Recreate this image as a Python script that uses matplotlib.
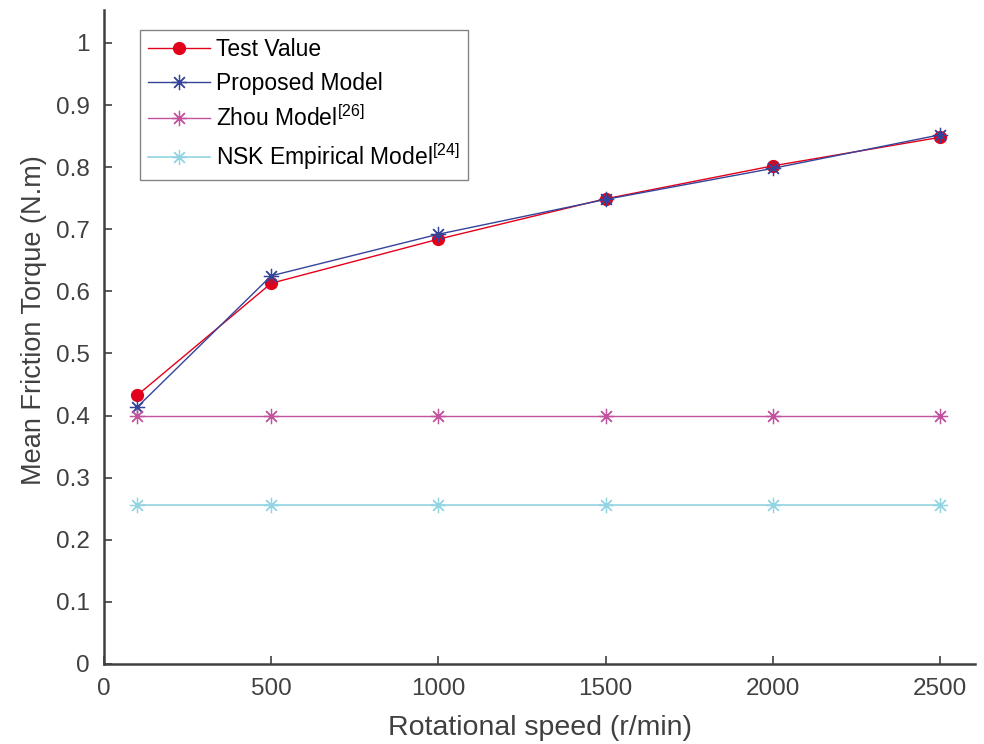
import matplotlib
matplotlib.use("Agg")
import matplotlib.pyplot as plt

plt.rcParams['font.family'] = ['Liberation Sans', 'DejaVu Sans']
plt.rcParams['mathtext.fontset'] = 'custom'
plt.rcParams['mathtext.rm'] = 'Liberation Sans'
plt.rcParams['mathtext.it'] = 'Liberation Sans'

speed = [100, 500, 1000, 1500, 2000, 2500]
test_value = [0.433, 0.613, 0.684, 0.749, 0.802, 0.848]
proposed = [0.414, 0.625, 0.692, 0.748, 0.798, 0.852]
zhou = [0.400, 0.400, 0.400, 0.400, 0.400, 0.400]
nsk = [0.256, 0.256, 0.256, 0.256, 0.256, 0.256]

labels = ['Test Value', 'Proposed Model', r'Zhou Model$^{[26]}$', r'NSK Empirical Model$^{[24]}$']
xticks = [0, 500, 1000, 1500, 2000, 2500]
yticks = [0, 0.1, 0.2, 0.3, 0.4, 0.5, 0.6, 0.7, 0.8, 0.9, 1]
ytick_labels = ['0', '0.1', '0.2', '0.3', '0.4', '0.5', '0.6', '0.7', '0.8', '0.9', '1']

# eight-spoke asterisk, like the MATLAB '*' marker
asterisk = (8, 2, 0)

fig = plt.figure(figsize=(9.84, 7.44), dpi=100)
ax = fig.add_axes([104 / 984, 1 - 664 / 744, 871 / 984, 654 / 744])

ax.plot(speed, test_value, color='#e3001b', lw=1.0, marker='o', markersize=8.5,
        markerfacecolor='#e3001b', markeredgecolor='#e3001b', label=labels[0])
ax.plot(speed, proposed, color='#34449a', lw=1.0, marker=asterisk, markersize=11,
        markeredgewidth=0.9, label=labels[1])
ax.plot(speed, zhou, color='#c2519e', lw=1.0, marker=asterisk, markersize=11,
        markeredgewidth=0.9, label=labels[2])
ax.plot(speed, nsk, color='#93d4e3', lw=1.2, marker=asterisk, markersize=11,
        markeredgewidth=0.9, label=labels[3])

ax.set_xlim(0, 2605)
ax.set_ylim(0, 1.053)
ax.set_xticks(xticks)
ax.set_yticks(yticks)
ax.set_yticklabels(ytick_labels)

for side in ('top', 'right'):
    ax.spines[side].set_visible(False)
for side in ('left', 'bottom'):
    ax.spines[side].set_color('#404040')
    ax.spines[side].set_linewidth(1.8)

ax.tick_params(axis='both', direction='in', length=6, width=1.2, color='#404040',
               labelcolor='#404040', labelsize=17.5)
ax.tick_params(axis='y', pad=10)
ax.tick_params(axis='x', pad=10)

ax.set_xlabel('Rotational speed (r/min)', fontsize=20.5, color='#404040', labelpad=11)
ax.set_ylabel('Mean Friction Torque (N.m)', fontsize=19.5, color='#404040')
ax.yaxis.set_label_coords(-0.066, 0.526)

leg = ax.legend(loc='upper left', bbox_to_anchor=(0.041, 0.969), borderaxespad=0,
                fontsize=16.5, frameon=True, fancybox=False, edgecolor='#666666',
                handlelength=2.7, handletextpad=0.3, labelspacing=0.45,
                borderpad=0.35)
leg.get_frame().set_linewidth(1.0)

fig.savefig('out.png', dpi=100, facecolor='white')
